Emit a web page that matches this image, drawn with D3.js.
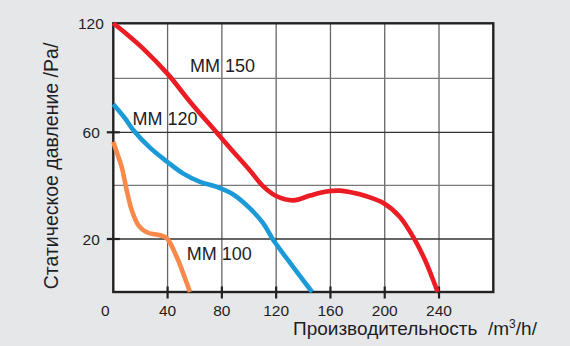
<!DOCTYPE html>
<html>
<head>
<meta charset="utf-8">
<script src="https://cdn.jsdelivr.net/npm/d3@7"></script>
<style>
  html, body { margin: 0; padding: 0; background: #e6e7e9; }
  svg { display: block; }
  text { font-family: "Liberation Sans", Arial, sans-serif; fill: #1e1e24; }
</style>
</head>
<body>
<svg id="chart" width="570" height="346"></svg>
<script>
// ---- data ----
const seriesNames = ["MM 150", "MM 120", "MM 100"];
const seriesColors = ["#ec1c24", "#1b9ad7", "#f7894a"];
const mm150 = [[0,120],[10,114],[22,106.2],[40.5,92],[56.5,77],[75.7,60.3],[86,54.1],[101,45.4],[110.5,39.6],[120,36],[132.6,34.4],[145,36.2],[156,37.6],[167,38],[175,37.4],[186,36],[199,33.4],[211,28.3],[222.3,19.6],[229,12.8],[233.4,7.5],[236.5,3.4],[239,0]];
const mm120 = [[0,75.6],[8.6,67.8],[14.7,61.3],[27,54.2],[39.4,49],[51.6,44.4],[63.9,41.3],[76.2,39.4],[88.4,36.6],[100.7,31.4],[110.5,25.8],[117.9,19.6],[130,11.2],[146.5,0]];
const mm100 = [[0,56.4],[2,53.3],[6.2,46.9],[9.9,38.1],[13.6,30.7],[18.4,25.2],[24.6,22.5],[34.4,21.4],[39.4,20.3],[46.7,13.3],[52.8,5.2],[56.5,0]];
const labelPos = [[56.5,93.4],[14.2,64],[54.2,12.1]];
const xTicks = [0,40,80,120,160,200,240];
const yTickLabels = [20,60,120];
const yGrid = [20,40,60,90];
const xGrid = [40,80,120,160,200,240];
const yLevels = [0,20,40,60,90,120];
const xTitle = "Производительность  /m";
const yTitle = "Статическое давление /Pa/";

// ---- scales ----
const svg = d3.select("#chart");
const x = d3.scaleLinear().domain([0,280]).range([113.3,493.3]);
const y = d3.scaleLinear().domain(yLevels).range([292,239,185.3,132.3,78.3,23.3]);

// plot background
svg.append("rect").attr("x", x(0)).attr("y", y(120))
  .attr("width", x(280)-x(0)).attr("height", y(0)-y(120)).attr("fill", "#fff");

// grid
svg.append("g").selectAll("line").data(xGrid).join("line")
  .attr("x1", d => x(d)).attr("x2", d => x(d)).attr("y1", y(120)).attr("y2", y(0))
  .attr("stroke", "#666").attr("stroke-width", 1.3);
svg.append("g").selectAll("line").data(yGrid).join("line")
  .attr("x1", x(0)).attr("x2", x(280)).attr("y1", d => y(d)).attr("y2", d => y(d))
  .attr("stroke", d => (d === 60 || d === 20) ? "#333" : "#777").attr("stroke-width", 1.3);

// frame
svg.append("rect").attr("x", x(0)).attr("y", y(120))
  .attr("width", x(280)-x(0)).attr("height", y(0)-y(120))
  .attr("fill", "none").attr("stroke", "#222").attr("stroke-width", 2.4);

// ticks
svg.append("g").selectAll("line").data(xTicks.filter(d => d > 0)).join("line")
  .attr("x1", d => x(d)).attr("x2", d => x(d)).attr("y1", y(0)-5.5).attr("y2", y(0)+6.5)
  .attr("stroke", "#222").attr("stroke-width", 2.2);
svg.append("g").selectAll("line").data(yTickLabels.filter(d => d < 120)).join("line")
  .attr("x1", x(0)-6.5).attr("x2", x(0)+6.5).attr("y1", d => y(d)).attr("y2", d => y(d))
  .attr("stroke", "#222").attr("stroke-width", 2.2);

// tick labels
svg.append("g").selectAll("text").data(xTicks).join("text")
  .attr("x", d => x(d) + (d === 0 ? -8 : 0)).attr("y", y(0) + 24)
  .attr("text-anchor", "middle").attr("font-size", 15.5).text(d => d);
svg.append("g").selectAll("text").data(yTickLabels).join("text")
  .attr("x", d => x(0) - (d === 120 ? 9.5 : 13.5)).attr("y", d => y(d) + 5.5)
  .attr("text-anchor", "end").attr("font-size", 15.5).text(d => d);

// curves
const line = d3.line().x(d => x(d[0])).y(d => y(d[1])).curve(d3.curveCatmullRom.alpha(0.5));
[mm150, mm120, mm100].forEach((s, i) => {
  svg.append("path").datum(s).attr("d", line)
    .attr("fill", "none").attr("stroke", seriesColors[i])
    .attr("stroke-width", 4.6).attr("stroke-linecap", "butt");
});

// curve labels
svg.append("g").selectAll("text").data(seriesNames).join("text")
  .attr("x", (d,i) => x(labelPos[i][0])).attr("y", (d,i) => y(labelPos[i][1]))
  .attr("font-size", 18).text(d => d);

// axis titles
const xt = svg.append("text").attr("x", 293).attr("y", 335).attr("font-size", 19)
  .style("white-space", "pre").attr("xml:space", "preserve");
xt.append("tspan").text(xTitle);
xt.append("tspan").attr("dy", -7).attr("font-size", 12).text("3");
xt.append("tspan").attr("dy", 7).text("/h/");

svg.append("text").attr("transform", "translate(58,166) rotate(-90)")
  .attr("text-anchor", "middle").attr("font-size", 19.5).text(yTitle);
</script>
</body>
</html>
